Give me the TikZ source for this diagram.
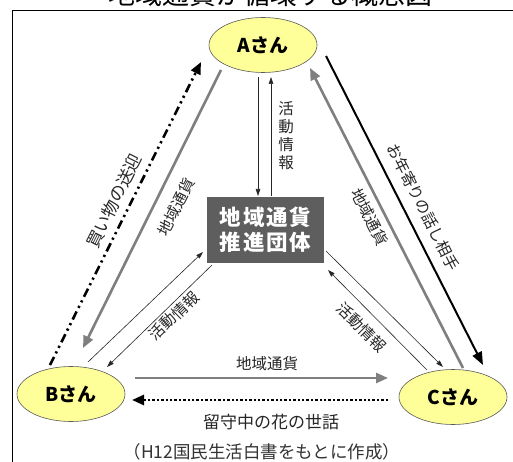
\documentclass[tikz,border=0pt]{standalone}
\usepackage{fontspec}
\setmainfont{Noto Sans CJK JP}
\usetikzlibrary{arrows.meta,shapes.geometric}
\definecolor{pfill}{HTML}{FFFF99}
\definecolor{boxgray}{HTML}{5E5E5E}
\definecolor{arrgray}{HTML}{7F7F7F}
\begin{document}
\begin{tikzpicture}[x=1pt,y=-1pt,
  person/.style={ellipse, draw=black!65, line width=0.6pt, fill=pfill, minimum width=108pt, minimum height=55pt, inner sep=0pt, font=\fontsize{19}{19}\selectfont\bfseries},
  orgbox/.style={rectangle, fill=boxgray, minimum width=117pt, minimum height=66pt, inner sep=0pt, text=white, align=center, font=\fontsize{21.5}{25}\selectfont\bfseries\addfontfeature{LetterSpace=8}},
  lbl/.style={inner sep=0pt, font=\fontsize{15.5}{15.5}\selectfont, text=black!85},
  thinarr/.style={draw=black!85, line width=0.6pt, -{Triangle[length=7pt,width=4.5pt]}},
  grayarr/.style={draw=arrgray, line width=2.6pt, -{Triangle[length=12pt,width=10pt]}},
  blackarr/.style={draw=black, line width=2pt, -{Triangle[length=13pt,width=10pt]}},
  dashdotarr/.style={draw=black, line width=2.6pt, dash pattern=on 9pt off 4pt on 2.2pt off 4pt on 2.2pt off 4pt, -{Triangle[length=12pt,width=10pt]}},
  dotarr/.style={draw=black, line width=2.6pt, dash pattern=on 2.4pt off 2pt, -{Triangle[length=12pt,width=10pt]}}
]
\useasboundingbox (0,0) rectangle (513,462);
\clip (0,0) rectangle (513,462);
\fill[white] (0,0) rectangle (513,462);
% cropped title
\node[anchor=base, inner sep=0pt, font=\fontsize{27}{27}\selectfont] (title) at (270,4.5) {地域通貨が循環する概念図};
% frame
\draw[line width=1pt] (12.5,462) -- (12.5,10.5) -- (513,10.5);

\node[person] (A) at (263,45) {Aさん};
\node[person] (B) at (71,394) {Bさん};
\node[person] (C) at (453,397) {Cさん};
\node[orgbox] (G) at (265.5,230) {地域通貨\\推進団体};

% named end points
\coordinate (aG1) at (258,77);   \coordinate (Ga1) at (258,196);
\coordinate (Ga2) at (271,196);  \coordinate (aG2) at (271,77);
\coordinate (bA1) at (50,365);   \coordinate (Ab1) at (201,62);
\coordinate (Ab2) at (221,70);   \coordinate (bA2) at (83,348);
\coordinate (bG1) at (88,362);   \coordinate (Gb1) at (203,252);
\coordinate (Gb2) at (212,265);  \coordinate (bG2) at (107,367);
\coordinate (Ac1) at (326,56);   \coordinate (cA1) at (483,365);
\coordinate (cA2) at (463,368);  \coordinate (Ac2) at (310,68);
\coordinate (Gc1) at (326,251);  \coordinate (cG1) at (443,367);
\coordinate (cG2) at (427,370);  \coordinate (Gc2) at (328,270);
\coordinate (bC1) at (135,378);  \coordinate (cB1) at (388,378);
\coordinate (cB2) at (388,400);  \coordinate (bC2) at (132,400);

% A <-> G
\draw[thinarr] (aG1) -- (Ga1);
\draw[thinarr] (Ga2) -- (aG2);
\node[lbl, align=center, font=\fontsize{15.5}{18}\selectfont] (l1) at (286,136) {活\\動\\情\\報};

% A <-> B
\draw[dashdotarr] (bA1) -- (Ab1);
\draw[grayarr] (Ab2) -- (bA2);
\node[lbl, rotate=63.5, font=\fontsize{17}{17}\selectfont] (l2) at (114,201) {買い物の送迎};
\node[lbl, rotate=63.5] (l3) at (176,207) {地域通貨};

% B <-> G
\draw[thinarr] (bG1) -- (Gb1);
\draw[thinarr] (Gb2) -- (bG2);
\node[lbl, rotate=44] (l4) at (174,316) {活動情報};

% A <-> C
\draw[blackarr] (Ac1) -- (cA1);
\draw[grayarr] (cA2) -- (Ac2);
\node[lbl, rotate=-63] (l5) at (423,207) {お年寄りの話し相手};
\node[lbl, rotate=-63] (l6) at (370,217) {地域通貨};

% G <-> C
\draw[thinarr] (Gc1) -- (cG1);
\draw[thinarr] (cG2) -- (Gc2);
\node[lbl, rotate=-45] (l7) at (362,327) {活動情報};

% B <-> C
\draw[grayarr] (bC1) -- (cB1);
\draw[dotarr] (cB2) -- (bC2);
\node[lbl] (l8) at (267,364) {地域通貨};
\node[lbl, font=\fontsize{17}{17}\selectfont] (l9) at (271,422) {留守中の花の世話};

% caption
\node[lbl, font=\fontsize{17.5}{17.5}\selectfont, text=black!80] (cap) at (262,452) {（H12国民生活白書をもとに作成）};
\end{tikzpicture}
\end{document}
